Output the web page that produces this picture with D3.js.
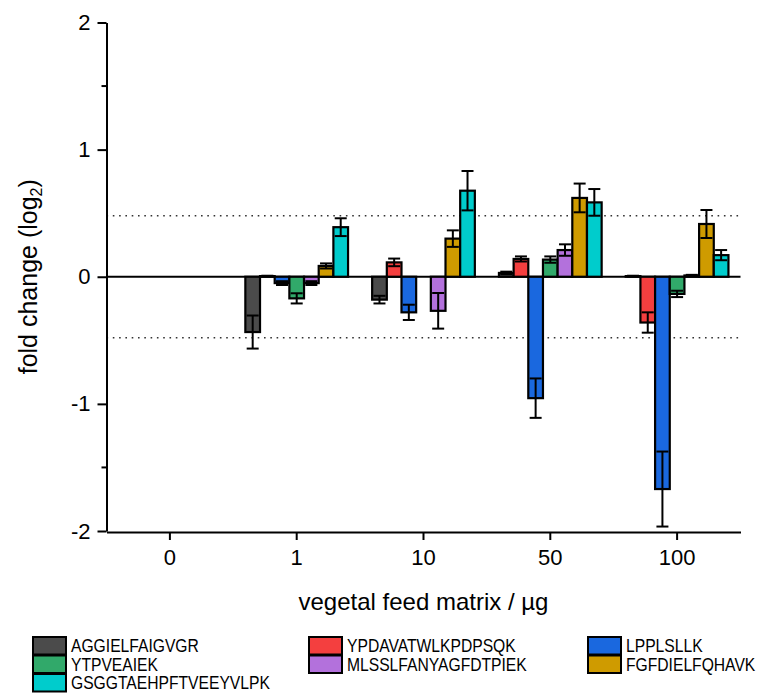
<!DOCTYPE html>
<html>
<head>
<meta charset="utf-8">
<script src="https://cdn.jsdelivr.net/npm/d3@7"></script>
<style>
  body { margin: 0; background: #fff; }
  svg { display: block; font-family: "Liberation Sans", Arial, sans-serif; }
</style>
</head>
<body>
<svg id="chart" width="759" height="693"></svg>
<script>
// categories on the x axis (µg of matrix)
const categories = ["0", "1", "10", "50", "100"];

// peptides, in bar order
const peptides = [
  "AGGIELFAIGVGR", "YPDAVATWLKPDPSQK", "LPPLSLLK", "YTPVEAIEK",
  "MLSSLFANYAGFDTPIEK", "FGFDIELFQHAVK", "GSGGTAEHPFTVEEYVLPK"
];
const colors = ["#4b4b4b", "#f43f3f", "#1a68df", "#31a96a", "#b371dc", "#cf9b00", "#00cccc"];

// log2 fold change per peptide, one value per category
const valAGGIELFAIGVGR = [0, -0.435, -0.18, 0.03, 0.005];
const valYPDAVATWLKPDPSQK = [0, 0.005, 0.113, 0.14, -0.36];
const valLPPLSLLK = [0, -0.05, -0.28, -0.955, -1.67];
const valYTPVEAIEK = [0, -0.17, 0, 0.135, -0.135];
const valMLSSLFANYAGFDTPIEK = [0, -0.05, -0.268, 0.21, 0.01];
const valFGFDIELFQHAVK = [0, 0.085, 0.30, 0.62, 0.415];
const valGSGGTAEHPFTVEEYVLPK = [0, 0.39, 0.677, 0.585, 0.17];

// error (sd) per peptide
const errAGGIELFAIGVGR = [0, 0.13, 0.03, 0.01, 0.003];
const errYPDAVATWLKPDPSQK = [0, 0.003, 0.03, 0.02, 0.08];
const errLPPLSLLK = [0, 0.015, 0.06, 0.155, 0.295];
const errYTPVEAIEK = [0, 0.04, 0, 0.025, 0.025];
const errMLSSLFANYAGFDTPIEK = [0, 0.015, 0.14, 0.045, 0.005];
const errFGFDIELFQHAVK = [0, 0.02, 0.065, 0.113, 0.11];
const errGSGGTAEHPFTVEEYVLPK = [0, 0.07, 0.155, 0.105, 0.04];

const yTicks = [-2, -1, 0, 1, 2];
const yMinor = [-1.5, 1.5];
const threshold = 0.48;

const values = [valAGGIELFAIGVGR, valYPDAVATWLKPDPSQK, valLPPLSLLK, valYTPVEAIEK,
  valMLSSLFANYAGFDTPIEK, valFGFDIELFQHAVK, valGSGGTAEHPFTVEEYVLPK];
const errors = [errAGGIELFAIGVGR, errYPDAVATWLKPDPSQK, errLPPLSLLK, errYTPVEAIEK,
  errMLSSLFANYAGFDTPIEK, errFGFDIELFQHAVK, errGSGGTAEHPFTVEEYVLPK];

const rows = [];
peptides.forEach((p, i) => {
  categories.forEach((c, j) => {
    rows.push({ peptide: p, cat: c, v: values[i][j], e: errors[i][j], color: colors[i] });
  });
});

const svg = d3.select("#chart");
const mLeft = 106.5, mRight = 740.5, mTop = 22.5, mBottom = 531;

const x0 = d3.scaleBand().domain(categories).range([mLeft, mRight]);
const groupW = x0.bandwidth() * 0.81;
const x1 = d3.scaleBand().domain(peptides)
  .range([(x0.bandwidth() - groupW) / 2, (x0.bandwidth() + groupW) / 2]);
const y = d3.scaleLinear().domain([-2, 2]).range([mBottom, mTop]);

// dotted threshold lines
svg.selectAll(".thr").data([threshold, -threshold]).enter().append("line")
  .attr("x1", mLeft).attr("x2", mRight)
  .attr("y1", d => y(d)).attr("y2", d => y(d))
  .attr("stroke", "#333").attr("stroke-width", 1.6)
  .attr("stroke-dasharray", "1.6,4.7");

// zero line
svg.append("line")
  .attr("x1", mLeft).attr("x2", mRight)
  .attr("y1", y(0)).attr("y2", y(0))
  .attr("stroke", "#000").attr("stroke-width", 2);

// bars
const bars = svg.append("g");
bars.selectAll("rect").data(rows).enter().append("rect")
  .attr("x", d => x0(d.cat) + x1(d.peptide))
  .attr("width", x1.bandwidth())
  .attr("y", d => y(Math.max(0, d.v)))
  .attr("height", d => Math.abs(y(d.v) - y(0)))
  .attr("fill", d => d.color)
  .attr("stroke", "#000").attr("stroke-width", 2.2);

// error bars (drawn both ways, caps at both ends)
const capW = 12;
const eb = svg.append("g").attr("stroke", "#000").attr("stroke-width", 2);
rows.filter(d => d.e > 0).forEach(d => {
  const cx = x0(d.cat) + x1(d.peptide) + x1.bandwidth() / 2;
  eb.append("line").attr("x1", cx).attr("x2", cx)
    .attr("y1", y(d.v - d.e)).attr("y2", y(d.v + d.e));
  [d.v - d.e, d.v + d.e].forEach(t => {
    eb.append("line").attr("x1", cx - capW / 2).attr("x2", cx + capW / 2)
      .attr("y1", y(t)).attr("y2", y(t));
  });
});

// y axis
const yAxis = svg.append("g").attr("transform", `translate(${mLeft},0)`)
  .call(d3.axisLeft(y).tickValues(yTicks).tickSize(9).tickSizeOuter(0)
    .tickPadding(7).tickFormat(d => String(d)));
yAxis.select(".domain").attr("stroke-width", 2);
yAxis.selectAll(".tick line").attr("stroke-width", 2);
yAxis.selectAll(".tick text").attr("font-size", 22).attr("fill", "#000")
  .attr("font-family", "Liberation Sans, Arial, sans-serif");
yAxis.selectAll(".minor").data(yMinor).enter().append("line")
  .attr("x1", -5).attr("x2", 0)
  .attr("y1", d => y(d)).attr("y2", d => y(d))
  .attr("stroke", "#000").attr("stroke-width", 2);

// x axis
const xAxis = svg.append("g").attr("transform", `translate(0,${mBottom + 1})`)
  .call(d3.axisBottom(x0).tickSize(8).tickSizeOuter(0).tickPadding(9));
xAxis.select(".domain").attr("stroke-width", 2);
xAxis.selectAll(".tick line").attr("stroke-width", 2);
xAxis.selectAll(".tick text").attr("font-size", 22).attr("fill", "#000")
  .attr("font-family", "Liberation Sans, Arial, sans-serif");

// axis titles
svg.append("text")
  .attr("x", (mLeft + mRight) / 2).attr("y", 610)
  .attr("text-anchor", "middle").attr("font-size", 24)
  .text("vegetal feed matrix / µg");

const yt = svg.append("text")
  .attr("transform", `translate(37,${y(0)}) rotate(-90)`)
  .attr("text-anchor", "middle").attr("font-size", 25);
yt.append("tspan").text("fold change (log");
yt.append("tspan").attr("font-size", 16).attr("dy", 5).text("2");
yt.append("tspan").attr("dy", -5).text(")");

// legend, 3 columns, row-major
const legX = [33, 309, 588];
const legY = 637;
const rowH = 18.5;
const leg = svg.append("g");
peptides.forEach((p, i) => {
  const col = i % 3, row = Math.floor(i / 3);
  const gx = legX[col], gy = legY + row * rowH;
  leg.append("rect")
    .attr("x", gx).attr("y", gy).attr("width", 33).attr("height", 17.5)
    .attr("fill", colors[i]).attr("stroke", "#000").attr("stroke-width", 2);
  leg.append("text")
    .attr("transform", `translate(${gx + 38},${gy + 15}) scale(0.87,1)`)
    .attr("font-size", 18)
    .text(p);
});
</script>
</body>
</html>
